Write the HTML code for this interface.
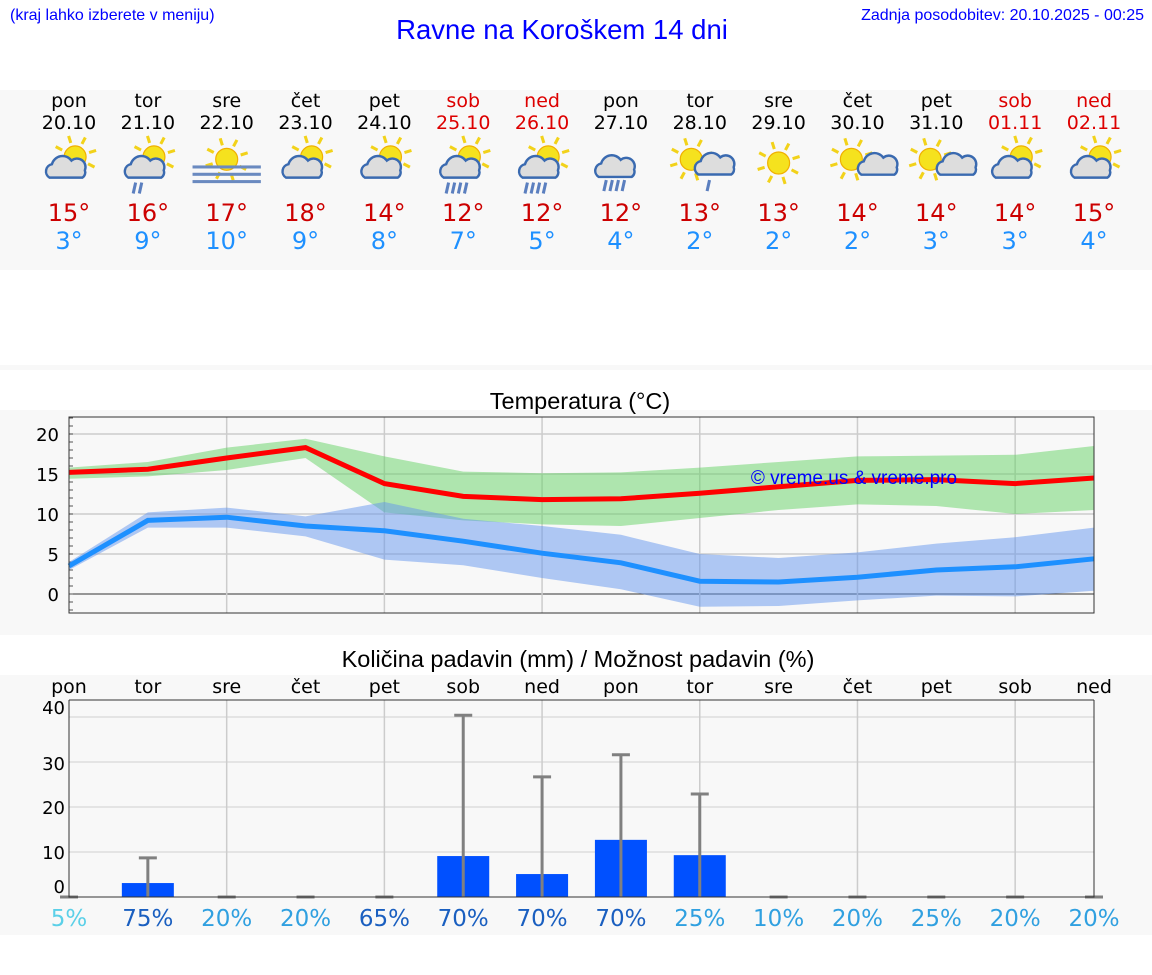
<!DOCTYPE html>
<html><head><meta charset="utf-8"><style>
body{margin:0;width:1152px;height:975px;background:#fff;position:relative;overflow:hidden;font-family:"DejaVu Sans",sans-serif}
.abs{position:absolute}
</style></head><body>
<div class="abs" style="left:10px;top:7px;font:16px 'Liberation Sans',sans-serif;color:#00f">(kraj lahko izberete v meniju)</div>
<div class="abs" style="left:0;width:1124px;top:14px;text-align:center;font:27.5px 'Liberation Sans',sans-serif;color:#00f">Ravne na Koroškem 14 dni</div>
<div class="abs" style="right:8px;top:7px;font:16px 'Liberation Sans',sans-serif;color:#00f">Zadnja posodobitev: 20.10.2025 - 00:25</div>
<svg class="abs" style="left:0;top:0" width="1152" height="975" id="svg"></svg>
<script>
const days=["pon","tor","sre","čet","pet","sob","ned","pon","tor","sre","čet","pet","sob","ned"];
const dates=["20.10","21.10","22.10","23.10","24.10","25.10","26.10","27.10","28.10","29.10","30.10","31.10","01.11","02.11"];
const icons=["pc","pcr","fog","pc","pc","pcrr","pcrr","rain","sr","sun","sc","sc","pc","pc"];
const tmax=[15,16,17,18,14,12,12,12,13,13,14,14,14,15];
const tmin=[3,9,10,9,8,7,5,4,2,2,2,3,3,4];
const hiMean=[15.2,15.6,17,18.3,13.8,12.2,11.8,11.9,12.6,13.4,14.2,14.3,13.8,14.5];
const hiUp=[15.8,16.5,18.3,19.4,17.2,15.3,15.1,15.2,15.8,16.5,17.2,17.3,17.4,18.5];
const hiLo=[14.4,14.7,15.5,17,10.2,9.2,8.7,8.5,9.5,10.5,11.2,11,10,10.5];
const loMean=[3.5,9.2,9.6,8.5,7.9,6.6,5.1,3.9,1.6,1.5,2.1,3,3.4,4.4];
const loUp=[4,10.2,10.8,9.7,11.5,9.4,8.5,7.4,5,4.5,5.2,6.3,7.1,8.3];
const loLo=[3,8.3,8.3,7.2,4.3,3.6,2,0.6,-1.6,-1.5,-0.8,-0.2,-0.3,0.4];
const tTicks=[0,5,10,15,20];
const rain=[0,3.1,0,0,0,9.1,5.1,12.7,9.3,0,0,0,0,0];
const rainMax=[0,8.7,0,0,0,40.4,26.7,31.6,22.9,0,0,0,0,0];
const prob=[5,75,20,20,65,70,70,70,25,10,20,25,20,20];
const rTicks=[0,10,20,30,40];
const weekend=[5,6,12,13];
const S=document.getElementById('svg');const NS="http://www.w3.org/2000/svg";
function el(t,a,p){const e=document.createElementNS(NS,t);for(const k in a)e.setAttribute(k,a[k]);(p||S).appendChild(e);return e;}
function tx(x,y,s,a){const e=el('text',Object.assign({x:x,y:y,'text-anchor':'middle'},a));e.textContent=s;return e;}
const X=i=>69+i*(1094-69)/13;
el('rect',{x:0,y:90,width:1152,height:180,fill:'#f8f8f8'});
el('rect',{x:0,y:365,width:1152,height:5,fill:'#f8f8f8'});
el('rect',{x:0,y:410,width:1152,height:225,fill:'#f8f8f8'});
el('rect',{x:0,y:675,width:1152,height:260,fill:'#f8f8f8'});
function drawIcon(g0,t,cx,cy){
 const g=el('g',{transform:`translate(${cx} ${cy}) scale(1.22) translate(${-cx} ${-cy})`},g0);
 const sun=(x,y,r)=>{for(let k=0;k<8;k++){const a=k*Math.PI/4-0.3;el('line',{x1:x+Math.cos(a)*(r+3),y1:y+Math.sin(a)*(r+3),x2:x+Math.cos(a)*(r+9),y2:y+Math.sin(a)*(r+9),stroke:'#f2d21a','stroke-width':2.5},g);}el('circle',{cx:x,cy:y,r:r,fill:'#f5e21e',stroke:'#f0b000','stroke-width':1},g);};
 const cloud=(x,y,s)=>{el('path',{d:`M${x-14*s} ${y+8*s} a6 6 0 0 1 2 -11 a9 9 0 0 1 16 -3 a7 7 0 0 1 11 8 a5 5 0 0 1 -2 6 z`,fill:'#ddd',stroke:'#3a6ab0','stroke-width':2},g);};
 const drops=(x,y,n)=>{for(let k=0;k<n;k++)el('line',{x1:x+k*5+2,y1:y,x2:x+k*5,y2:y+9,stroke:'#5b7fbf','stroke-width':2.5},g);};
 if(t=='sun'){sun(cx,cy,9);return;}
 if(t=='fog'){sun(cx,cy-3,9);for(let k=0;k<3;k++)el('rect',{x:cx-28,y:cy+2+k*6,width:56,height:2.5,fill:'#6a8ac0'},g);return;}
 if(t=='rain'){cloud(cx,cy+1,1.3);drops(cx-14,cy+14,4);return;}
 if(t=='sr'){sun(cx-7,cy-3,9);cloud(cx+10,cy+3,0.8);drops(cx+6,cy+14,1);return;}
 if(t=='sc'){sun(cx-5,cy-3,9);cloud(cx+13,cy+4,0.7);return;}
 sun(cx+5,cy-5,9);cloud(cx-2,cy+4,1);
 if(t=='pcr')drops(cx-12,cy+16,2);if(t=='pcrr')drops(cx-14,cy+16,4);
}
for(let i=0;i<14;i++){
 const x=X(i),we=weekend.includes(i),c=we?'#d00':'#000';
 const g=el('g',{});
 let t=tx(x,107,days[i],{'font-size':19,fill:c});g.appendChild(t);
 t=tx(x,129,dates[i],{'font-size':19,fill:c});g.appendChild(t);
 drawIcon(g,icons[i],x,163);
 t=tx(x,221,tmax[i]+'°',{'font-size':24,fill:'#c00'});g.appendChild(t);
 t=tx(x,249,tmin[i]+'°',{'font-size':24,fill:'#1e90ff'});g.appendChild(t);
}
const TY=v=>594-v*8;
tx(580,409,'Temperatura (°C)',{'font-size':23.5,'font-family':'Liberation Sans,sans-serif',fill:'#000',});
const tg=el('g',{});
el('rect',{x:69,y:417,width:1025,height:196,fill:'#f8f8f8',stroke:'none'},tg);
for(const v of tTicks){el('line',{x1:69,x2:1094,y1:TY(v),y2:TY(v),stroke:v==0?'#333':'#ccc','stroke-width':v==0?1:1.5},tg);tx(59,TY(v)+7,String(v),{'font-size':18,'text-anchor':'end',fill:'#000'});}
for(let v=-2;v<=22;v++)el('line',{x1:69,x2:73,y1:TY(v),y2:TY(v),stroke:'#555'},tg);
for(let i=2;i<13;i+=2)el('line',{x1:X(i),x2:X(i),y1:417,y2:613,stroke:'#ccc','stroke-width':1.5},tg);
function band(up,lo,col){let d='M'+up.map((v,i)=>X(i)+' '+TY(v)).join('L')+'L'+lo.map((v,i)=>X(i)+' '+TY(v)).reverse().join('L')+'Z';return el('path',{d:d,fill:col},tg);}
band(hiUp,hiLo,'rgba(100,210,100,0.5)');
band(loUp,loLo,'rgba(100,149,237,0.5)');
el('polyline',{points:hiMean.map((v,i)=>X(i)+','+TY(v)).join(' '),fill:'none',stroke:'#f00','stroke-width':5,},tg);
el('polyline',{points:loMean.map((v,i)=>X(i)+','+TY(v)).join(' '),fill:'none',stroke:'#1e90ff','stroke-width':5,},tg);
el('rect',{x:69,y:417,width:1025,height:196,fill:'none',stroke:'#333'},tg);
tx(854,484,'© vreme.us & vreme.pro',{'font-size':19,'font-family':'Liberation Sans,sans-serif',fill:'#00f'});
const RY=v=>897-v*4.5;
tx(578,667,'Količina padavin (mm) / Možnost padavin (%)',{'font-size':23.5,'font-family':'Liberation Sans,sans-serif',fill:'#000',});
const pg=el('g',{});
for(let i=0;i<14;i++)pg.appendChild(tx(X(i),693,days[i],{'font-size':19,fill:'#000'}));
el('rect',{x:69,y:700,width:1025,height:197,fill:'#f8f8f8'},pg);
const rLab=[886,852,807,763,707];
rTicks.forEach((v,k)=>{if(v>0)el('line',{x1:69,x2:1094,y1:RY(v),y2:RY(v),stroke:'#ddd','stroke-width':1.5},pg);pg.appendChild(tx(65,rLab[k]+7,String(v),{'font-size':18,'text-anchor':'end',fill:'#000'}));});
for(let i=2;i<13;i+=2)el('line',{x1:X(i),x2:X(i),y1:700,y2:897,stroke:'#ccc','stroke-width':1.5},pg);
for(let i=0;i<14;i++){
 if(rain[i]>0){const b=el('rect',{x:X(i)-26,y:RY(rain[i]),width:52,height:rain[i]*4.5,fill:'#0050ff'},pg);}
 el('line',{x1:X(i),x2:X(i),y1:897,y2:RY(rainMax[i]),stroke:'#808080','stroke-width':3},pg);
 el('line',{x1:X(i)-9,x2:X(i)+9,y1:RY(rainMax[i]),y2:RY(rainMax[i]),stroke:'#808080','stroke-width':3},pg);
 const p=prob[i],c=p<10?'#5bd0e8':p<50?'#30a0e0':'#1a5fc0';
 const t=tx(X(i),926,p+'%',{'font-size':23,fill:c});pg.appendChild(t);
}
el('path',{d:'M69 700V897H1094V700',fill:'none',stroke:'#333'},pg);
el('line',{x1:69,x2:1094,y1:700,y2:700,stroke:'#333'},pg);
</script>
</body></html>
